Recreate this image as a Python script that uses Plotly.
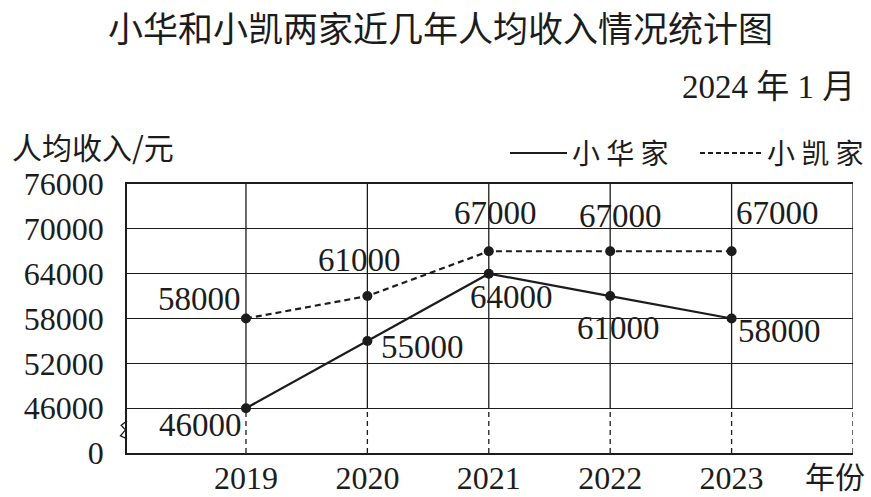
import plotly.graph_objects as go

years = [2019, 2020, 2021, 2022, 2023]
xiaohua = [46000, 55000, 64000, 61000, 58000]
xiaokai = [58000, 61000, 67000, 67000, 67000]
y_ticks = [40000, 46000, 52000, 58000, 64000, 70000, 76000]
y_ticktext = ["0", "46000", "52000", "58000", "64000", "70000", "76000"]
y_break = 46000
x_max = 2024.0

INK = "#1c1c1c"
SERIF = "Liberation Serif, Times New Roman, serif"
CJK = "Noto Sans CJK SC, sans-serif"

fig = go.Figure()
fig.add_trace(go.Scatter(x=years, y=xiaohua, mode="lines+markers", name="小华家",
                         line=dict(color=INK, width=2.2),
                         marker=dict(size=10, color=INK), showlegend=False))
fig.add_trace(go.Scatter(x=years, y=xiaokai, mode="lines+markers", name="小凯家",
                         line=dict(color=INK, width=2.2, dash="6px,4px"),
                         marker=dict(size=10, color=INK), showlegend=False))

shapes = []
for yr in years + [x_max]:
    shapes.append(dict(type="line", xref="x", yref="y", x0=yr, x1=yr, y0=y_break, y1=76000,
                       line=dict(color=INK, width=1.3), layer="below"))
    shapes.append(dict(type="line", xref="x", yref="y", x0=yr, x1=yr, y0=40000, y1=y_break,
                       line=dict(color=INK, width=1.3, dash="5px,4px"), layer="below"))

# axis break zigzag on left axis
shapes.append(dict(type="path", xref="paper", yref="y",
                   path="M 0,44300 L -0.008,43700 L -0.002,43100 L -0.009,42300 L 0,41900",
                   line=dict(color=INK, width=1.3)))

LEG_Y = (453 - 153) / 269
shapes.append(dict(type="line", xref="paper", yref="paper", x0=(510-127)/726, x1=(567-127)/726,
                   y0=LEG_Y, y1=LEG_Y, line=dict(color=INK, width=1.8)))
shapes.append(dict(type="line", xref="paper", yref="paper", x0=(700-127)/726, x1=(762-127)/726,
                   y0=LEG_Y, y1=LEG_Y, line=dict(color=INK, width=1.8, dash="5px,3px")))

annotations = []
# label offsets: (xanchor, xshift, yshift)
hua_off = [("right", -2, -17), ("left", 12, -6), ("center", 23, -23), ("center", 8, -32), ("left", 4, -12)]
kai_off = [("right", -3, 20), ("center", -8, 36), ("center", 7, 38), ("center", 10, 35), ("left", 2, 38)]
for series, offs in ((xiaohua, hua_off), (xiaokai, kai_off)):
    for yr, v, (xa, xs, ys) in zip(years, series, offs):
        annotations.append(dict(x=yr, y=v, xref="x", yref="y", text=str(v), showarrow=False,
                                xanchor=xa, yanchor="middle", xshift=xs, yshift=ys,
                                font=dict(family=SERIF, size=33, color=INK)))

annotations += [
    dict(text="小华和小凯两家近几年人均收入情况统计图", xref="paper", yref="paper",
         x=(440-127)/726, y=(453-26)/269, showarrow=False, xanchor="center", yanchor="middle",
         font=dict(family=CJK, size=35, color=INK)),
    dict(text="2024 年 1 月", xref="paper", yref="paper", x=(857-127)/726, y=(453-87)/269,
         showarrow=False, xanchor="right", yanchor="middle",
         font=dict(family=SERIF + ", " + CJK, size=33, color=INK)),
    dict(text="人均收入/元", xref="paper", yref="paper", x=(10-127)/726, y=(453-146)/269,
         showarrow=False, xanchor="left", yanchor="middle",
         font=dict(family=CJK, size=30, color=INK)),
    dict(text="小 华 家", xref="paper", yref="paper", x=(570-127)/726, y=(453-152)/269,
         showarrow=False, xanchor="left", yanchor="middle",
         font=dict(family=CJK, size=28, color=INK)),
    dict(text="小 凯 家", xref="paper", yref="paper", x=(866-127)/726, y=(453-152)/269,
         showarrow=False, xanchor="right", yanchor="middle",
         font=dict(family=CJK, size=28, color=INK)),
    dict(text="年份", xref="paper", yref="paper", x=(867-127)/726, y=(453-475)/269,
         showarrow=False, xanchor="right", yanchor="middle",
         font=dict(family=CJK, size=30, color=INK)),
]

fig.update_layout(
    width=871, height=497,
    margin=dict(l=127, r=18, t=184, b=44),
    paper_bgcolor="white", plot_bgcolor="white",
    shapes=shapes, annotations=annotations,
    xaxis=dict(range=[2018.02, x_max], tickvals=years, ticktext=[str(y) for y in years],
               showgrid=False, zeroline=False, showline=True, mirror=True,
               linecolor=INK, linewidth=1.5, ticks="", ticklabelstandoff=-4,
               automargin=False,
               tickfont=dict(family=SERIF, size=32, color=INK)),
    yaxis=dict(range=[40000, 76000], tickvals=y_ticks, ticktext=y_ticktext,
               showgrid=True, gridcolor=INK, gridwidth=1.3, zeroline=False,
               showline=True, linecolor=INK, linewidth=1.5, ticks="",
               ticklabelstandoff=15, automargin=False,
               tickfont=dict(family=SERIF, size=32, color=INK)),
)

fig.write_html("out.html", config={"displayModeBar": False},
               post_script="document.body.style.margin='0px';document.body.style.overflow='hidden';")
